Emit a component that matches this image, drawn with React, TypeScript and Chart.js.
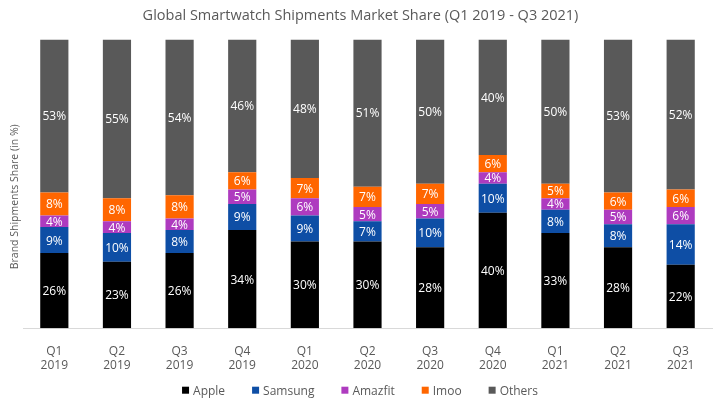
import React, { useEffect, useRef } from "react";
import { Chart, registerables } from "chart.js";

Chart.register(...registerables);

const quarters = [
  ["Q1", "2019"], ["Q2", "2019"], ["Q3", "2019"], ["Q4", "2019"],
  ["Q1", "2020"], ["Q2", "2020"], ["Q3", "2020"], ["Q4", "2020"],
  ["Q1", "2021"], ["Q2", "2021"], ["Q3", "2021"],
];
const apple = [26, 23, 26, 34, 30, 30, 28, 40, 33, 28, 22];
const samsung = [9, 10, 8, 9, 9, 7, 10, 10, 8, 8, 14];
const amazfit = [4, 4, 4, 5, 6, 5, 5, 4, 4, 5, 6];
const imoo = [8, 8, 8, 6, 7, 7, 7, 6, 5, 6, 6];
const others = [53, 55, 54, 46, 48, 51, 50, 40, 50, 53, 52];

const FONT = "'Open Sans', 'Noto Sans', sans-serif";
const GRAY = "#595959";
const Y_TITLE = "Brand Shipments Share (in %)";

const labelPlugin = {
  id: "segLabels",
  afterDatasetsDraw(chart: any) {
    const ctx = chart.ctx;
    ctx.save();
    ctx.fillStyle = "#ffffff";
    ctx.font = `12px ${FONT}`;
    ctx.textAlign = "center";
    ctx.textBaseline = "middle";
    chart.data.datasets.forEach((ds: any, i: number) => {
      const meta = chart.getDatasetMeta(i);
      meta.data.forEach((bar: any, j: number) => {
        const top = Math.min(bar.y, bar.base);
        const bot = Math.max(bar.y, bar.base);
        ctx.fillText(ds.data[j] + "%", bar.x, (top + bot) / 2 + 1);
      });
    });
    ctx.restore();
  },
};

const legendPlugin = {
  id: "customLegend",
  afterDraw(chart: any) {
    const ctx = chart.ctx;
    ctx.save();
    ctx.font = `12px ${FONT}`;
    ctx.textBaseline = "middle";
    const box = 7;
    const gapBox = 4;
    const gap = 27;
    const items = chart.data.datasets.map((ds: any) => ({
      label: ds.label,
      color: ds.backgroundColor,
      w: box + gapBox + ctx.measureText(ds.label).width,
    }));
    const total = items.reduce((s: number, it: any) => s + it.w, 0) + gap * (items.length - 1);
    let x = chart.width / 2 - total / 2;
    const y = chart.chartArea.bottom + 62;
    items.forEach((it: any) => {
      ctx.fillStyle = it.color;
      ctx.fillRect(x, y - box / 2, box, box);
      ctx.fillStyle = GRAY;
      ctx.textAlign = "left";
      ctx.fillText(it.label, x + box + gapBox, y + 1);
      x += it.w + gap;
    });
    // rotated y-axis title
    const ca = chart.chartArea;
    ctx.translate(15, (ca.top + ca.bottom) / 2 + 13);
    ctx.rotate(-Math.PI / 2);
    ctx.font = `10.5px ${FONT}`;
    ctx.textAlign = "center";
    ctx.fillText(Y_TITLE, 0, 0);
    ctx.restore();
  },
};

export default function App() {
  const ref = useRef<HTMLCanvasElement>(null);
  useEffect(() => {
    document.body.style.margin = "0";
    const chart = new Chart(ref.current!, {
      type: "bar",
      data: {
        labels: quarters,
        datasets: [
          { label: "Apple", data: apple, backgroundColor: "#000000" },
          { label: "Samsung", data: samsung, backgroundColor: "#0E4EA5" },
          { label: "Amazfit", data: amazfit, backgroundColor: "#AE3BBF" },
          { label: "Imoo", data: imoo, backgroundColor: "#FF6600" },
          { label: "Others", data: others, backgroundColor: "#595959" },
        ],
      },
      options: {
        responsive: false,
        animation: false,
        layout: { padding: { left: 9, right: 8, top: 0, bottom: 23 } },
        datasets: { bar: { barPercentage: 0.45, categoryPercentage: 1 } } as any,
        scales: {
          x: {
            stacked: true,
            grid: { display: false },
            border: { color: "#d9d9d9" },
            ticks: { color: GRAY, font: { family: FONT, size: 12 }, padding: 8, maxRotation: 0 },
          },
          y: {
            stacked: true,
            min: 0,
            max: 100,
            grid: { display: false },
            border: { display: false },
            ticks: { display: false, padding: 0 },
            afterFit: (s: any) => { s.width = 14; },
            title: { display: false },
          },
        },
        plugins: {
          title: {
            display: true,
            text: "Global Smartwatch Shipments Market Share (Q1 2019 - Q3 2021)",
            color: GRAY,
            font: { family: FONT, size: 14.5, weight: "normal" },
            padding: { top: 7, bottom: 15 },
          },
          legend: { display: false },
          tooltip: { enabled: false },
        },
      },
      plugins: [labelPlugin, legendPlugin],
    });
    return () => chart.destroy();
  }, []);
  return (
    <div style={{ position: "absolute", left: 0, top: 0, width: 720, height: 404 }}>
      <canvas ref={ref} width={720} height={404} />
    </div>
  );
}
